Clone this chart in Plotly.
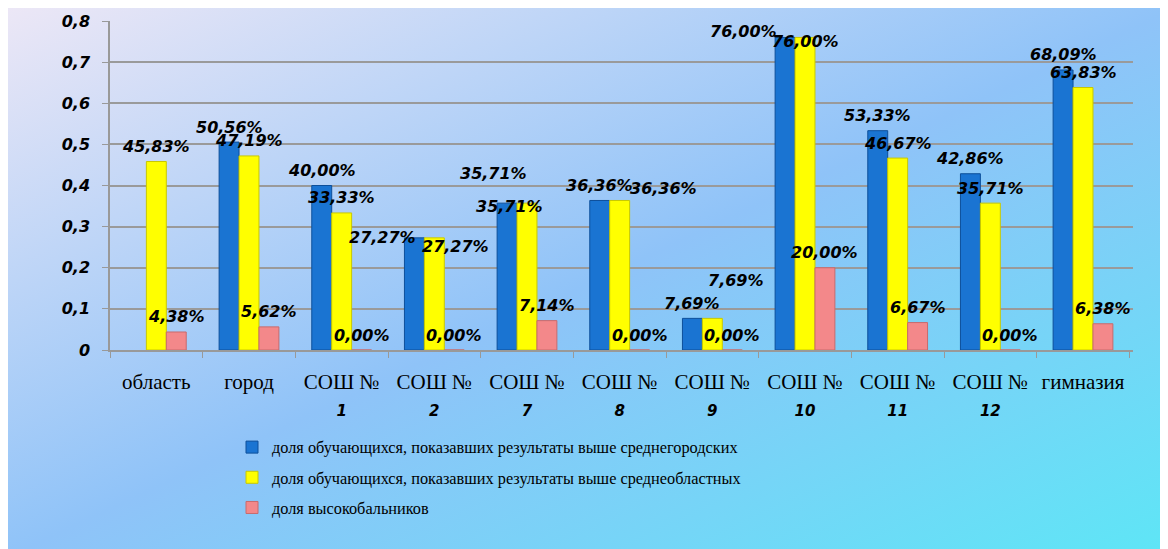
import base64
import plotly.graph_objects as go

categories = ["область", "город", "СОШ № 1", "СОШ № 2", "СОШ № 7", "СОШ № 8",
              "СОШ № 9", "СОШ № 10", "СОШ № 11", "СОШ № 12", "гимназия"]
above_city = [None, 0.5056, 0.4000, 0.2727, 0.3571, 0.3636, 0.0769, 0.7600, 0.5333, 0.4286, 0.6809]
above_region = [0.4583, 0.4719, 0.3333, 0.2727, 0.3571, 0.3636, 0.0769, 0.7600, 0.4667, 0.3571, 0.6383]
high_scorers = [0.0438, 0.0562, 0.0, 0.0, 0.0714, 0.0, 0.0, 0.2000, 0.0667, 0.0, 0.0638]
series_names = [
    "доля обучающихся, показавших результаты выше среднегородских",
    "доля обучающихся, показавших результаты выше среднеобластных",
    "доля высокобальников",
]
y_ticks = [0, 0.1, 0.2, 0.3, 0.4, 0.5, 0.6, 0.7, 0.8]
y_ticktext = ["0", "0,1", "0,2", "0,3", "0,4", "0,5", "0,6", "0,7", "0,8"]

# label placement nudges (pixels): (series index, category) -> (dx, yshift)
label_nudges = {
    (0, "СОШ № 2"): (-32, 0),
    (1, "СОШ № 2"): (21, -9),
    (0, "СОШ № 7"): (-14, 30),
    (1, "СОШ № 7"): (-18, -3),
    (1, "СОШ № 8"): (44, 12),
    (1, "СОШ № 9"): (24, 38),
    (0, "СОШ № 10"): (-42, 6),
    (1, "СОШ № 10"): (0, -4),
}
DEFAULT_NUDGE = (0, 15)

W, H = 1168, 549
OFF = 8  # page body margin
ML, MR, MT, MB = 110 - OFF, 35 + OFF, 21 - OFF, 199 + OFF
PW, PH = W - ML - MR, H - MT - MB
BARGAP = 0.355

SCRIPT = "DejaVu Sans"
SERIF = "Liberation Serif"


def fmt(v):
    return f"{v * 100:.2f}%".replace(".", ",")


def ticklabel(c):
    if c.startswith("СОШ №"):
        num = c.split()[-1]
        return ("СОШ №<br><span style=\"font-family:DejaVu Sans;font-weight:bold;"
                "font-style:italic;font-size:15px\">" + num + "</span>")
    return c


colors = ["#1a74d2", "#ffff00", "#f3888a"]
lines = ["#0d4f9a", "#c8c800", "#c86a6c"]
all_series = [above_city, above_region, high_scorers]

fig = go.Figure()
for k, (name, vals, col, lc) in enumerate(zip(series_names, all_series, colors, lines)):
    fig.add_trace(go.Bar(
        x=categories, y=vals, name=name, legendgroup=f"g{k}",
        marker=dict(color=col, line=dict(color=lc, width=1)),
    ))

# data labels
bar_w = (1 - BARGAP) * PW / len(categories) / len(all_series)
annotations = []
for k, vals in enumerate(all_series):
    base_dx = (k - (len(all_series) - 1) / 2) * bar_w
    for c, v in zip(categories, vals):
        if v is None:
            continue
        dx, ys = label_nudges.get((k, c), DEFAULT_NUDGE)
        annotations.append(dict(
            x=c, y=v, xref="x", yref="y", text=fmt(v), showarrow=False,
            xanchor="center", yanchor="middle", xshift=base_dx + dx, yshift=ys,
            font=dict(family=SCRIPT, size=16, color="black", weight="bold", style="italic"),
        ))

svg = (f"<svg xmlns='http://www.w3.org/2000/svg' width='{W}' height='{H}' preserveAspectRatio='none'>"
       "<defs><linearGradient id='g' x1='0' y1='0' x2='1' y2='1'>"
       "<stop offset='0' stop-color='#ece7f6'/>"
       "<stop offset='0.5' stop-color='#8fc3f8'/>"
       "<stop offset='1' stop-color='#5de6f6'/>"
       "</linearGradient></defs>"
       f"<rect x='0' y='0' width='{W}' height='{H}' fill='url(#g)'/></svg>")
src = "data:image/svg+xml;base64," + base64.b64encode(svg.encode()).decode()

fig.update_layout(
    width=W, height=H,
    margin=dict(l=ML, r=MR, t=MT, b=MB, pad=0, autoexpand=False),
    paper_bgcolor="white", plot_bgcolor="rgba(0,0,0,0)",
    barmode="group", bargap=BARGAP, bargroupgap=0,
    showlegend=True,
    legend=dict(x=(232 - OFF - ML) / PW, xanchor="left", y=(MT + PH - (430 - OFF)) / PH,
                yanchor="top", bgcolor="rgba(0,0,0,0)", itemwidth=30,
                tracegroupgap=6, traceorder="grouped",
                font=dict(family=SERIF, size=16.3, color="black")),
    annotations=annotations,
    images=[dict(source=src, xref="paper", yref="paper",
                 x=-ML / PW, y=1 + MT / PH, sizex=W / PW, sizey=H / PH,
                 xanchor="left", yanchor="top", sizing="stretch", layer="below")],
    xaxis=dict(tickvals=categories, ticktext=[ticklabel(c) for c in categories],
               tickson="boundaries", ticks="outside", ticklen=6, tickcolor="#999999",
               showline=True, linecolor="#999999", linewidth=1.5, automargin=False,
               tickfont=dict(family=SERIF, size=21, color="black"),
               ticklabelstandoff=12, showgrid=False),
    yaxis=dict(range=[0, 0.8], tickvals=y_ticks, ticktext=y_ticktext,
               ticks="outside", ticklen=6, tickcolor="#999999", automargin=False,
               showline=True, linecolor="#999999", linewidth=1.5,
               showgrid=True, gridcolor="#9a9a9a", gridwidth=1.5, zeroline=False,
               tickfont=dict(family=SCRIPT, size=16, color="black", weight="bold", style="italic"),
               ticklabelstandoff=9),
)

fig.write_html("out.html")
